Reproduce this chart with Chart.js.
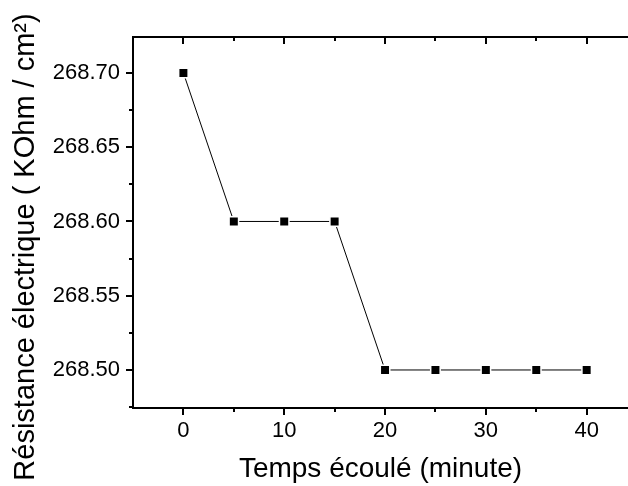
<!DOCTYPE html>
<html>
<head>
<meta charset="utf-8">
<script src="https://cdn.jsdelivr.net/npm/chart.js@4/dist/chart.umd.min.js"></script>
<style>
  body { margin: 0; background: #fff; }
  canvas { display: block; }
</style>
</head>
<body>
<canvas id="myChart" width="628" height="486"></canvas>
<script>
const timeMinutes = [0, 5, 10, 15, 20, 25, 30, 35, 40];
const resistance = [268.70, 268.60, 268.60, 268.60, 268.50, 268.50, 268.50, 268.50, 268.50];

const xMajorTicks = [0, 10, 20, 30, 40];
const xMinorTicks = [5, 15, 25, 35];
const yMajorTicks = [268.50, 268.55, 268.60, 268.65, 268.70];
const yMinorTicks = [268.475, 268.525, 268.575, 268.625, 268.675];

const xTitle = 'Temps écoulé (minute)';
const yTitle = 'Résistance électrique ( KOhm / cm²)';

const fontFamily = 'Arial, "Liberation Sans", sans-serif';
Chart.defaults.font.family = fontFamily;
Chart.defaults.color = '#000';

const ctx = document.getElementById('myChart');

// axes frame with outward/inward ticks, like the Origin plot
const framePlugin = {
    id: 'frame',
    afterDraw(chart) {
        const c = chart.ctx;
        const a = chart.chartArea;
        const xs = chart.scales.x;
        const ys = chart.scales.y;
        c.save();
        c.strokeStyle = '#000';
        c.lineWidth = 2;
        c.beginPath();
        c.moveTo(a.left, a.bottom + 1);
        c.lineTo(a.left, a.top - 1);
        c.moveTo(a.left - 1, a.top);
        c.lineTo(a.right, a.top);
        c.moveTo(a.left - 1, a.bottom);
        c.lineTo(a.right, a.bottom);
        c.stroke();

        c.beginPath();
        for (let v of xMajorTicks) {
            let px = Math.round(xs.getPixelForValue(v));
            c.moveTo(px, a.bottom); c.lineTo(px, a.bottom + 7);
            c.moveTo(px, a.top); c.lineTo(px, a.top + 7);
        }
        for (let v of xMinorTicks) {
            let px = Math.round(xs.getPixelForValue(v));
            c.moveTo(px, a.bottom); c.lineTo(px, a.bottom + 4);
            c.moveTo(px, a.top); c.lineTo(px, a.top + 4);
        }
        for (let v of yMajorTicks) {
            let py = Math.round(ys.getPixelForValue(v));
            c.moveTo(a.left, py); c.lineTo(a.left - 7, py);
        }
        for (let v of yMinorTicks) {
            let py = Math.round(ys.getPixelForValue(v));
            c.moveTo(a.left, py); c.lineTo(a.left - 4, py);
        }
        c.stroke();

        // y axis title
        c.fillStyle = '#000';
        c.font = '29px ' + fontFamily;
        c.textAlign = 'center';
        c.textBaseline = 'middle';
        c.translate(26, 247);
        c.rotate(-Math.PI / 2);
        c.fillText(yTitle, 0, 0);
        c.restore();
    }
};

let chart = new Chart(ctx, {
    type: 'line',
    data: {
        datasets: [{
            label: 'Résistance',
            data: timeMinutes.map((t, i) => ({ x: t, y: resistance[i] })),
            borderColor: '#000',
            borderWidth: 1,
            pointStyle: 'rect',
            pointRadius: 6.7,
            pointBackgroundColor: '#000',
            pointBorderColor: '#fff',
            pointBorderWidth: 1.5,
            tension: 0
        }]
    },
    options: {
        responsive: false,
        animation: false,
        layout: { autoPadding: false, padding: { top: 37, right: 0, left: 0, bottom: 0 } },
        plugins: {
            legend: { display: false },
            tooltip: { enabled: false }
        },
        scales: {
            x: {
                type: 'linear',
                min: -5,
                max: 44.1,
                grid: { display: false },
                border: { display: false },
                afterBuildTicks: s => { s.ticks = xMajorTicks.map(v => ({ value: v })); },
                afterFit: s => { s.height = 78; s.paddingLeft = 0; s.paddingRight = 0; },
                ticks: { font: { size: 22 }, padding: 2, maxRotation: 0 },
                title: {
                    display: true,
                    text: xTitle,
                    font: { size: 28 },
                    padding: { top: 0, bottom: 0 }
                }
            },
            y: {
                min: 268.4744,
                max: 268.7242,
                grid: { display: false },
                border: { display: false },
                afterBuildTicks: s => { s.ticks = yMajorTicks.map(v => ({ value: v })); },
                afterFit: s => { s.width = 133; s.paddingTop = 0; s.paddingBottom = 0; },
                ticks: {
                    font: { size: 22 },
                    padding: 5,
                    callback: v => Number(v).toFixed(2)
                }
            }
        }
    },
    plugins: [framePlugin]
});
</script>
</body>
</html>
